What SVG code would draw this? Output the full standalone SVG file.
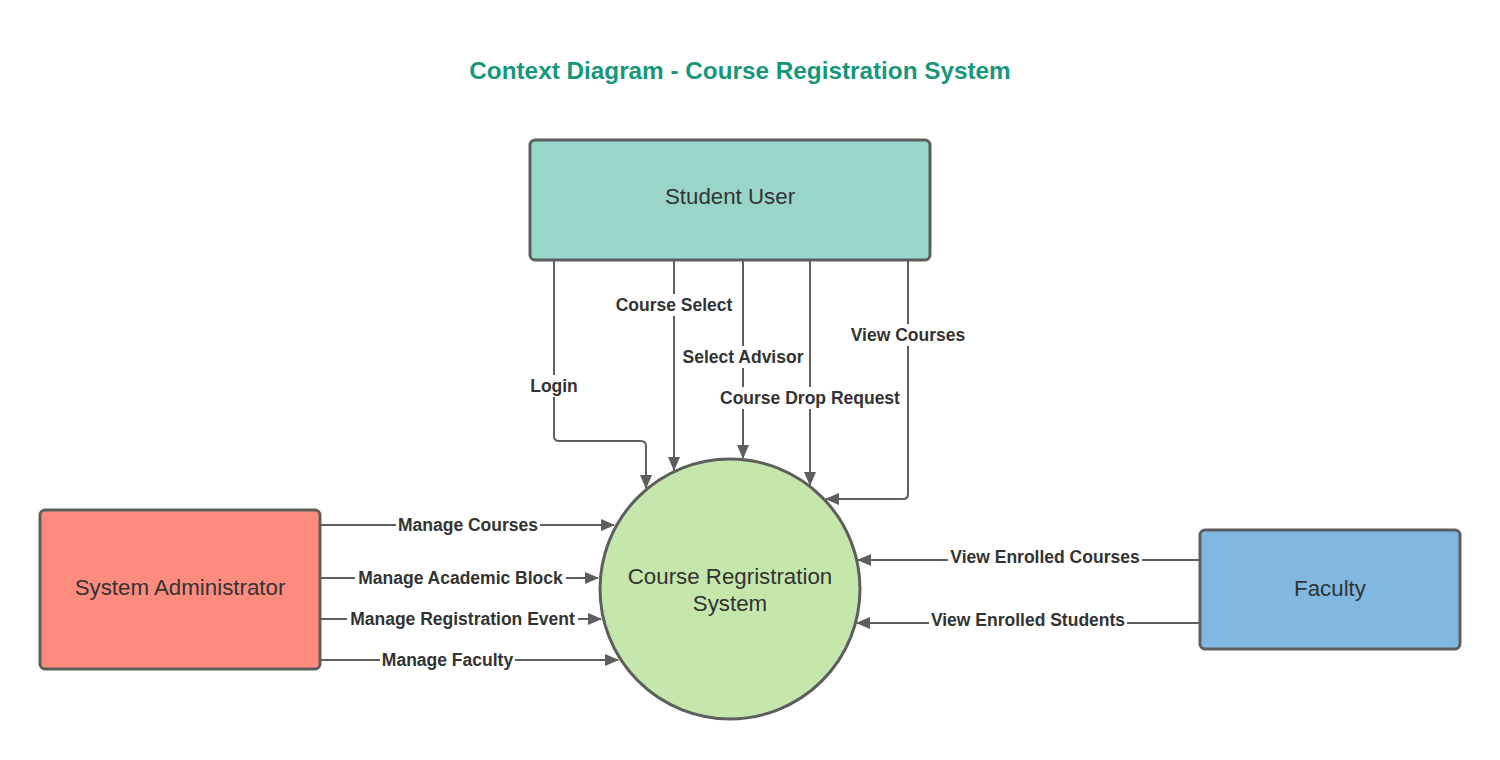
<svg xmlns="http://www.w3.org/2000/svg" width="1500" height="760" viewBox="0 0 1500 760">
<defs>
<marker id="arr" markerWidth="14" markerHeight="12" refX="13" refY="6" orient="auto" markerUnits="userSpaceOnUse">
<path d="M0,0 L14,6 L0,12 z" fill="#5e5e5e"/>
</marker>
<style>
.node{stroke:#5e5e5e;stroke-width:3}
.ntext{font-family:"Liberation Sans",Arial,sans-serif;font-size:22.3px;fill:#333;text-anchor:middle}
.conn{fill:none;stroke:#5e5e5e;stroke-width:2;marker-end:url(#arr)}
.lbl{font-family:"Liberation Sans",Arial,sans-serif;font-size:17.5px;font-weight:bold;fill:#333;text-anchor:middle}
.bg{fill:#fff}
</style>
</defs>
<rect width="1500" height="760" fill="#fff"/>
<text x="740" y="79" font-family="Liberation Sans,Arial,sans-serif" font-size="24.3px" font-weight="bold" fill="#16977a" text-anchor="middle">Context Diagram - Course Registration System</text>

<g id="connectors">
<path class="conn" d="M554,261 V436 Q554,441 559,441 H641 Q646,441 646,446 V488"/>
<path class="conn" d="M674,261 V470"/>
<path class="conn" d="M743,261 V458"/>
<path class="conn" d="M810,261 V485"/>
<path class="conn" d="M908,261 V494 Q908,499 903,499 H826"/>
<path class="conn" d="M321,525 H614"/>
<path class="conn" d="M321,578 H598"/>
<path class="conn" d="M321,619 H601"/>
<path class="conn" d="M321,660 H618"/>
<path class="conn" d="M1199,560 H858"/>
<path class="conn" d="M1199,623 H857"/>
<g id="labels">
<rect class="bg" x="612" y="294" width="124" height="22"/>
<text class="lbl" x="674" y="311">Course Select</text>
<rect class="bg" x="680" y="346" width="126" height="22"/>
<text class="lbl" x="743" y="363">Select Advisor</text>
<rect class="bg" x="527" y="375" width="54" height="22"/>
<text class="lbl" x="554" y="392">Login</text>
<rect class="bg" x="717" y="387" width="186" height="22"/>
<text class="lbl" x="810" y="404">Course Drop Request</text>
<rect class="bg" x="848" y="324" width="120" height="22"/>
<text class="lbl" x="908" y="341">View Courses</text>
<rect class="bg" x="396" y="514" width="144" height="22"/>
<text class="lbl" x="468" y="531">Manage Courses</text>
<rect class="bg" x="355" y="567" width="211" height="22"/>
<text class="lbl" x="460.5" y="584">Manage Academic Block</text>
<rect class="bg" x="347" y="608" width="231" height="22"/>
<text class="lbl" x="462.5" y="625">Manage Registration Event</text>
<rect class="bg" x="380" y="649" width="135" height="22"/>
<text class="lbl" x="447.5" y="666">Manage Faculty</text>
<rect class="bg" x="948" y="546" width="194" height="22"/>
<text class="lbl" x="1045" y="563">View Enrolled Courses</text>
<rect class="bg" x="929" y="609" width="198" height="22"/>
<text class="lbl" x="1028" y="626">View Enrolled Students</text>
</g>
</g>

<g id="student-user">
<rect class="node" x="530" y="140" width="400" height="120" rx="5" fill="#9ad5ca"/>
<text class="ntext" x="730" y="204">Student User</text>
</g>
<g id="system-administrator">
<rect class="node" x="40" y="510" width="280" height="159" rx="5" fill="#fe8c7e"/>
<text class="ntext" x="180" y="595">System Administrator</text>
</g>
<g id="faculty">
<rect class="node" x="1200" y="530" width="260" height="119" rx="5" fill="#80b8e2"/>
<text class="ntext" x="1330" y="596">Faculty</text>
</g>
<g id="course-registration-system">
<circle class="node" cx="730" cy="589" r="130" fill="#c5e7ab"/>
<text class="ntext" x="730" y="584">Course Regristration</text>
<text class="ntext" x="730" y="611">System</text>
</g>
</svg>
